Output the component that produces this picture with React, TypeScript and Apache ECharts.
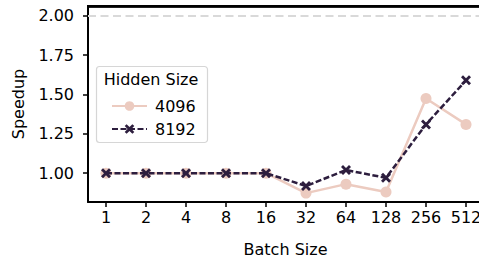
import React, { useEffect, useRef } from "react";
import * as echarts from "echarts";

const batchSizes = ["1", "2", "4", "8", "16", "32", "64", "128", "256", "512"];
const speedup4096 = [1.0, 1.0, 1.0, 1.0, 1.0, 0.873, 0.93, 0.88, 1.475, 1.31];
const speedup8192 = [1.0, 1.0, 1.0, 1.0, 1.0, 0.918, 1.02, 0.97, 1.31, 1.59];
const yTicks = [1.0, 1.25, 1.5, 1.75, 2.0];
const seriesNames = ["4096", "8192"];
const yMin = 0.8165;
const yMax = 2.063;

const FONT = "DejaVu Sans";
const FS = 16;
const PINK = "#eccbc0";
const DARK = "#2d1e3e";
const XPATH =
  "path://M0,2 L2,0 L5,3 L8,0 L10,2 L7,5 L10,8 L8,10 L5,7 L2,10 L0,8 L3,5 Z";

export default function App() {
  const ref = useRef<HTMLDivElement>(null);
  useEffect(() => {
    if (!ref.current) return;
    const chart = echarts.init(ref.current, null, { renderer: "svg" });
    const idx = batchSizes.map((_, i) => i);
    const axisLineStyle = { color: "#000", width: 2 };
    chart.setOption({
      animation: false,
      backgroundColor: "#fff",
      grid: {
        left: 88,
        right: -4,
        top: 6,
        bottom: 57,
        outerBoundsMode: "none",
        containLabel: false,
      },
      xAxis: {
        type: "value",
        min: -0.45,
        max: 9.425,
        name: "Batch Size",
        nameLocation: "middle",
        nameGap: 39,
        nameTextStyle: { fontFamily: FONT, fontSize: FS, color: "#000" },
        axisLine: { show: true, onZero: false, lineStyle: axisLineStyle },
        axisTick: { show: true, length: 5, lineStyle: { color: "#000", width: 1.5 }, customValues: idx },
        axisLabel: {
          customValues: idx,
          formatter: (v: number) => batchSizes[Math.round(v)] ?? "",
          fontFamily: FONT,
          fontSize: FS,
          color: "#000",
          margin: 7,
        },
        splitLine: { show: false },
      },
      yAxis: {
        type: "value",
        min: yMin,
        max: yMax,
        name: "Speedup",
        nameLocation: "middle",
        nameGap: 62,
        nameTextStyle: { fontFamily: FONT, fontSize: FS, color: "#000" },
        axisLine: { show: true, onZero: false, lineStyle: axisLineStyle },
        axisTick: { show: true, length: 5, lineStyle: { color: "#000", width: 1.5 }, customValues: yTicks },
        axisLabel: {
          customValues: yTicks,
          formatter: (v: number) => v.toFixed(2),
          fontFamily: FONT,
          fontSize: FS,
          color: "#000",
          margin: 14,
        },
        splitLine: { show: false },
      },
      legend: {
        orient: "vertical",
        left: 106,
        top: 93,
        itemWidth: 35,
        itemHeight: 12,
        itemGap: 7,
        z: 20,
        data: seriesNames,
        textStyle: { fontFamily: FONT, fontSize: FS, color: "#000", padding: [0, 0, 0, 3] },
      },
      graphic: [
        {
          type: "rect",
          shape: { x: 87, y: 5, width: 392, height: 2.5 },
          style: { fill: "#000" },
          z: 30,
        },
        {
          type: "rect",
          shape: { x: 96.5, y: 66.5, width: 111, height: 76, r: 3 },
          style: { fill: "rgba(255,255,255,0.85)", stroke: "#d6d6d6", lineWidth: 1.2 },
          z: 10,
        },
        {
          type: "text",
          x: 151,
          y: 79,
          style: {
            text: "Hidden Size",
            fontFamily: FONT,
            fontSize: FS,
            fill: "#000",
            align: "center",
            verticalAlign: "middle",
          },
          z: 20,
        },
      ],
      series: [
        {
          name: seriesNames[0],
          type: "line",
          data: idx.map((i) => [i, speedup4096[i]]),
          symbol: "circle",
          symbolSize: 11,
          color: PINK,
          itemStyle: { color: PINK },
          lineStyle: { color: PINK, width: 2.5 },
          z: 3,
          markLine: {
            silent: true,
            symbol: "none",
            label: { show: false },
            lineStyle: { color: "#d9d9d9", width: 1.8, type: [8, 4.5] },
            data: [{ yAxis: 2 }],
            z: 1,
          },
        },
        {
          name: seriesNames[1],
          type: "line",
          data: idx.map((i) => [i, speedup8192[i]]),
          symbol: XPATH,
          symbolSize: 10,
          color: DARK,
          itemStyle: { color: DARK },
          lineStyle: { color: DARK, width: 2.5, type: [6, 2.5] },
          z: 4,
          markLine: {
            silent: true,
            symbol: "none",
            label: { show: false },
            lineStyle: { color: "#000", width: 2.5, type: "solid" },
            data: [{ yAxis: yMax }],
            z: 30,
          },
        },
      ],
    });
    return () => chart.dispose();
  }, []);
  return (
    <div
      ref={ref}
      style={{ position: "fixed", left: 0, top: 0, width: 479, height: 259 }}
    />
  );
}
